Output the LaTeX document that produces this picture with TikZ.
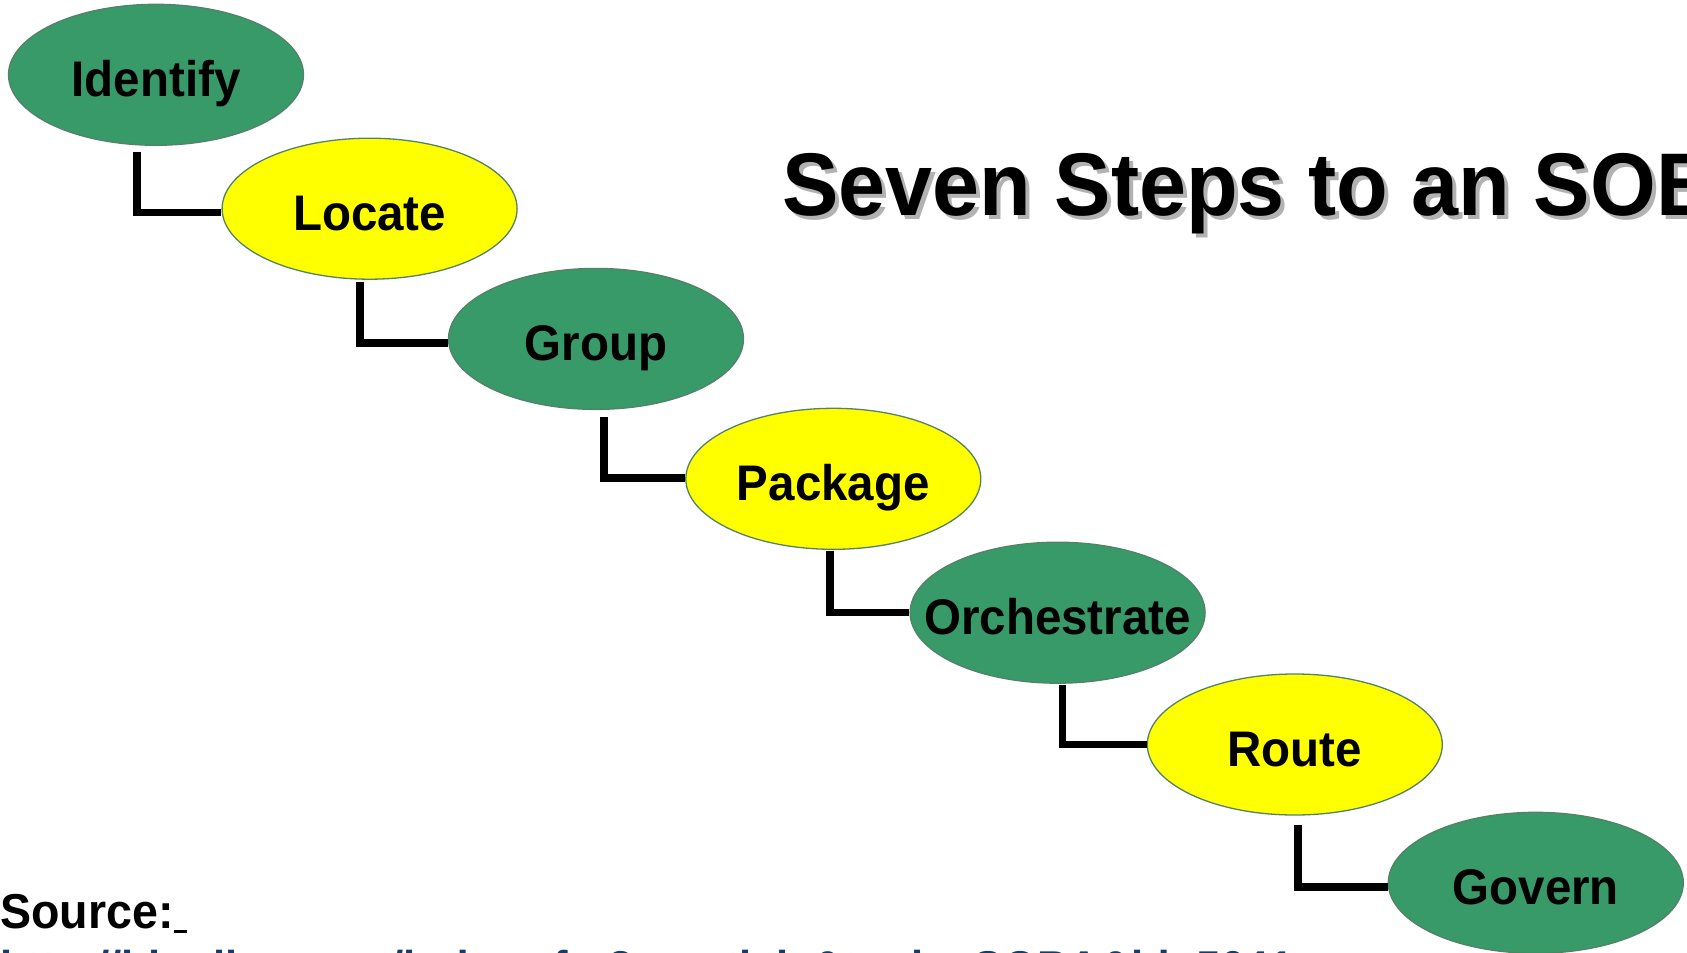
\documentclass[tikz,border=0pt]{standalone}
\usepackage{fontspec}
\setmainfont{Liberation Sans}
\newfontfamily\narrowsans[FakeStretch=0.95]{Liberation Sans}
\definecolor{stepgreen}{RGB}{55,154,104}
\definecolor{stepyellow}{RGB}{255,255,0}
\definecolor{stepedge}{RGB}{84,130,104}
\definecolor{linkblue}{RGB}{20,60,110}
\newcommand{\steplabel}[1]{\makebox[0pt]{#1}}
\tikzset{
  stepnode/.style={ellipse, draw=stepedge, line width=1.3pt,
    minimum width=295pt, minimum height=141pt, inner sep=0pt,
    text height=44pt, text depth=0pt,
    font=\narrowsans\bfseries\fontsize{50pt}{50pt}\selectfont},
  greenstep/.style={stepnode, fill=stepgreen},
  yellowstep/.style={stepnode, fill=stepyellow},
  link/.style={draw=black, line width=7.5pt, line join=miter}
}
\usetikzlibrary{shapes.geometric}
\begin{document}
\begin{tikzpicture}[x=1pt, y=-1pt]
  \useasboundingbox (0,0) rectangle (1687,953);
  \clip (0,0) rectangle (1687,953);

  % upper ends of the connectors
  \coordinate (t1) at (137.2,151.5);
  \coordinate (t2) at (360.0,281.5);
  \coordinate (t3) at (604.0,417.0);
  \coordinate (t4) at (830.0,550.5);
  \coordinate (t5) at (1062.5,685.0);
  \coordinate (t6) at (1298.0,825.0);

  % the seven steps
  \node[greenstep]  (identify)    at (156.0,74.8)   {\steplabel{Identify}};
  \node[yellowstep] (locate)      at (369.6,208.7)  {\steplabel{Locate}};
  \node[greenstep]  (group)       at (596.0,338.9)  {\steplabel{Group}};
  \node[yellowstep] (package)     at (833.3,478.8)  {\steplabel{Package}};
  \node[greenstep]  (orchestrate) at (1057.6,612.7) {\steplabel{Orchestrate}};
  \node[yellowstep] (route)       at (1294.8,744.5) {\steplabel{Route}};
  \node[greenstep]  (govern)      at (1535.8,882.8) {\steplabel{Govern}};

  \draw[link] (t1) |- ([yshift=-4pt]locate.west);
  \draw[link] (t2) |- ([yshift=-4pt]group.west);
  \draw[link] (t3) |- ([yshift=1pt]package.west);
  \draw[link] (t4) |- (orchestrate.west);
  \draw[link] (t5) |- (route.west);
  \draw[link] (t6) |- ([yshift=-4pt]govern.west);

  % title with drop shadow
  \node[anchor=base west, inner sep=0pt, text=black!30,
        font=\narrowsans\bfseries\fontsize{89pt}{89pt}\selectfont]
        (titleshadow) at (786,219) {Seven Steps to an SOBA};
  \node[anchor=base west, inner sep=0pt, text=black,
        font=\narrowsans\bfseries\fontsize{89pt}{89pt}\selectfont]
        (title) at (782,215) {Seven Steps to an SOBA};

  % source reference
  \node[anchor=base west, inner sep=0pt,
        font=\narrowsans\bfseries\fontsize{49pt}{49pt}\selectfont]
        (source) at (0,928) {Source:\rule[-5pt]{13pt}{3.5pt}};
  \node[anchor=base west, inner sep=0pt, text=linkblue,
        font=\narrowsans\bfseries\fontsize{46pt}{46pt}\selectfont]
        (url) at (0,983) {http://blogline.com/index.cfm?c=article\&topic=SOBA\&id=5641};
\end{tikzpicture}
\end{document}
